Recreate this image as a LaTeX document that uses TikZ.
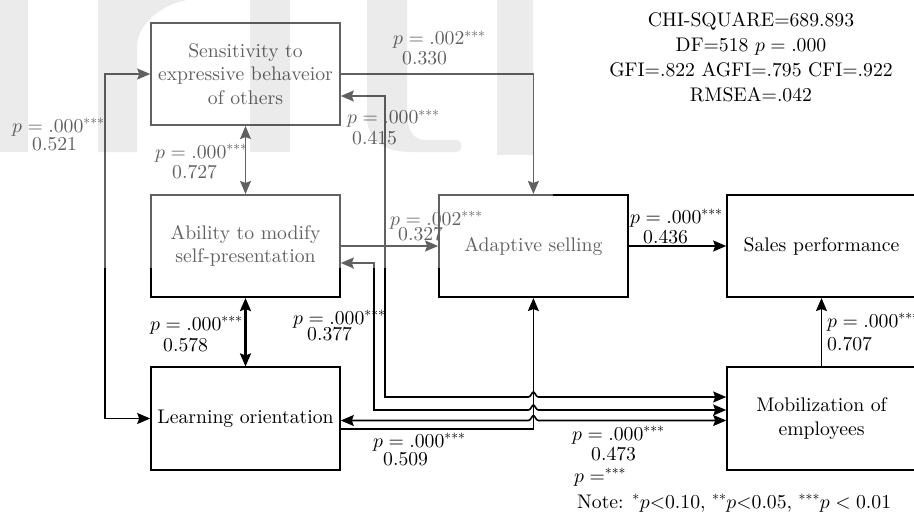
\documentclass[tikz,border=0pt]{standalone}
\usepackage{fontspec}
\setmainfont{lmroman10-regular}[Extension=.otf, ItalicFont=lmroman10-italic, BoldFont=lmroman10-bold, BoldItalicFont=lmroman10-bolditalic]
\DeclareFontShape{OT1}{cmr}{m}{n}{<->cmr10}{}
\DeclareFontShape{OML}{cmm}{m}{it}{<->cmmi10}{}
\DeclareFontShape{OMS}{cmsy}{m}{n}{<->cmsy10}{}
\usetikzlibrary{arrows.meta,calc}
\newcommand{\crosshop}[2]{-- (#1-5,#2) .. controls (#1-2.5,#2) and (#1-1.5,#2-5) .. (#1,#2-5) .. controls (#1+1.5,#2-5) and (#1+2.5,#2) .. (#1+5,#2)}
\begin{document}
\begin{tikzpicture}[x=1pt,y=-1pt,
  every node/.style={font=\fontsize{19.7}{23.5}\selectfont, inner sep=0pt},
  box/.style={draw, line width=1.6pt, minimum width=189pt, minimum height=102.5pt, align=center},
  >={Stealth[length=13pt,width=11pt,inset=2pt]},
  conn/.style={line width=1.6pt, ->},
  biconn/.style={line width=1.6pt, <->},
  lab/.style={anchor=base west}]
\useasboundingbox (0,0) rectangle (914,519);
\clip (0,0) rectangle (914,519);
% boxes
\node[box] (sen) at (245.5,74) {Sensitivity to\\expressive behaveior\\of others};
\node[box] (abi) at (245.5,246) {Ability to modify\\self-presentation};
\node[box] (lea) at (245.5,418.5) {Learning orientation};
\node[box] (ada) at (533.4,246) {};
\node[box] (sal) at (821.5,246) {Sales performance};
\node[box] (mob) at (821.5,418.5) {Mobilization of\\employees};
% stats
\node[align=center, font=\fontsize{19.7}{25}\selectfont] (stats) at (751,57.5)
  {CHI-SQUARE=689.893\\DF=518 $p=.000$\\GFI=.822 AGFI=.795 CFI=.922\\RMSEA=.042};
% connectors
\draw[conn] (sen.east) -| (ada.north);
\draw[biconn] (sen.west) -- ++(-45,0) |- (lea.west);
\draw[biconn, line width=1pt] (sen.south) -- (abi.north);
\draw[biconn, line width=2.2pt] (abi.south) -- (lea.north);
\draw[conn] (abi.east) -- (ada.west);
\draw[conn] (ada.east) -- (sal.west);
\draw[conn] (mob.north) -- (sal.south);
\draw[biconn] ($(sen.east)+(0,22)$) -| (385,397) \crosshop{533.4}{397} -- ($(mob.west)+(0,-21.5)$);
\draw[biconn] ($(abi.east)+(0,17)$) -| (374,410) \crosshop{533.4}{410} -- ($(mob.west)+(0,-8.5)$);
\draw[biconn] ($(lea.east)+(0,2)$) \crosshop{533.4}{420.5} -- ($(mob.west)+(0,2)$);
\draw[conn] ($(lea.east)+(0,10.5)$) -| (ada.south);
% labels
\node[lab] (l1a) at (393,45) {$p=.002^{***}$};
\node[lab] (l1b) at (402,65) {0.330};
\node[lab] (l2a) at (12,132) {$p=.000^{***}$};
\node[lab] (l2b) at (32,150) {0.521};
\node[lab] (l3a) at (155,158) {$p=.000^{***}$};
\node[lab] (l3b) at (172,178) {0.727};
\node[lab] (l4a) at (347,124) {$p=.000^{***}$};
\node[lab] (l4b) at (352,145) {0.415};
\node[lab] (l5a) at (390,225) {$p=.002^{***}$};
\node[lab] (l5b) at (398,240) {0.327};
\node[lab] (l6a) at (630,223) {$p=.000^{***}$};
\node[lab] (l6b) at (643,243) {0.436};
\node[lab] (l7a) at (150,330) {$p=.000^{***}$};
\node[lab] (l7b) at (163,351) {0.578};
\node[lab] (l8a) at (293,324) {$p=.000^{***}$};
\node[lab] (l8b) at (307,340) {0.377};
\node[lab] (l9a) at (827,327) {$p=.000^{***}$};
\node[lab] (l9b) at (827,350) {0.707};
\node[lab] (l10a) at (373,447) {$p=.000^{***}$};
\node[lab] (l10b) at (383,465) {0.509};
\node[lab] (l11a) at (572,440) {$p=.000^{***}$};
\node[lab] (l11b) at (591,460) {0.473};
\node[lab] (pnote) at (574,482) {$p=^{***}$};
\node[lab] (note) at (577,508) {Note: $^{*}p{<}0.10$, $^{**}p{<}0.05$, $^{***}p < 0.01$};
% faded watermark overlay
\fill[white, fill opacity=0.38] (0,0) rectangle (553,268);
\begin{scope}[fill=black, fill opacity=0.08]
\fill (0,0) rectangle (28,152);
\fill (98,0) -- (98,152) -- (137,152) -- (137,47) .. controls (137,25) and (160,5) .. (187,0) -- cycle;
\fill (250,0) rectangle (290,152);
\fill (367,0) -- (367,118) .. controls (367,140) and (385,152) .. (410,152) -- (457,152) .. controls (463,152) and (463,140) .. (457,140) -- (425,140) .. controls (412,140) and (407,128) .. (407,110) -- (407,0) -- cycle;
\fill (497,0) rectangle (533,155);
\end{scope}
\node[text=black!62] (adatxt) at (ada.center) {Adaptive selling};
\end{tikzpicture}
\end{document}
